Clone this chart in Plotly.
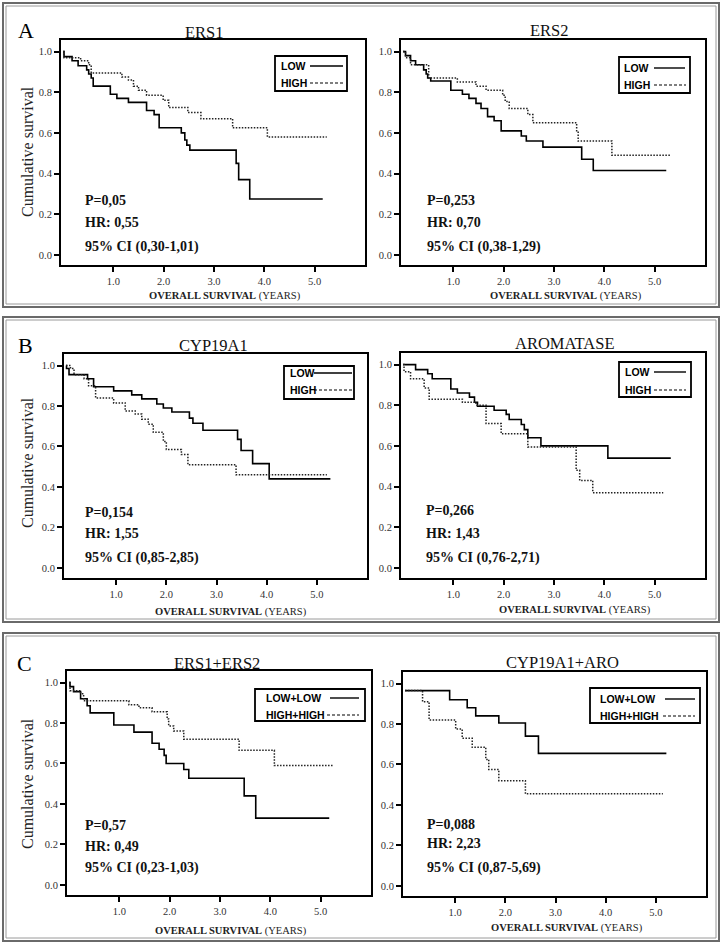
import plotly.graph_objects as go

W, H = 724, 944

# ---------------- data ----------------
X_TICKS = [1, 2, 3, 4, 5]
X_TICK_LABELS = ["1.0", "2.0", "3.0", "4.0", "5.0"]
Y_TICKS = [0.0, 0.2, 0.4, 0.6, 0.8, 1.0]
Y_TICK_LABELS = ["0.0", "0.2", "0.4", "0.6", "0.8", "1.0"]

TITLES = ["ERS1", "ERS2", "CYP19A1", "AROMATASE", "ERS1+ERS2", "CYP19A1+ARO"]
LEGEND_LABELS_SINGLE = ["LOW", "HIGH"]
LEGEND_LABELS_COMBO = ["LOW+LOW", "HIGH+HIGH"]
P_VALUES = ["P=0,05", "P=0,253", "P=0,154", "P=0,266", "P=0,57", "P=0,088"]
HR_VALUES = ["HR: 0,55", "HR: 0,70", "HR: 1,55", "HR: 1,43", "HR: 0,49", "HR: 2,23"]
CI_VALUES = ["95% CI (0,30-1,01)", "95% CI (0,38-1,29)", "95% CI (0,85-2,85)",
             "95% CI (0,76-2,71)", "95% CI (0,23-1,03)", "95% CI (0,87-5,69)"]

ERS1_LOW_T = [0, 0.02, 0.18, 0.30, 0.47, 0.51, 0.56, 0.60, 0.94, 1.07, 1.30, 1.66, 1.81, 1.91, 2.35, 2.42, 2.46, 2.52, 3.44, 3.49, 3.71, 5.16]
ERS1_LOW_S = [1.0, 0.975, 0.955, 0.93, 0.91, 0.89, 0.87, 0.83, 0.79, 0.77, 0.75, 0.71, 0.69, 0.625, 0.60, 0.565, 0.54, 0.515, 0.45, 0.37, 0.275, 0.275]
ERS1_HIGH_T = [0, 0.02, 0.35, 0.51, 0.56, 1.17, 1.30, 1.40, 1.50, 1.66, 1.99, 2.10, 2.48, 2.74, 3.37, 4.06, 5.24]
ERS1_HIGH_S = [1.0, 0.97, 0.955, 0.935, 0.895, 0.875, 0.86, 0.83, 0.81, 0.785, 0.76, 0.725, 0.70, 0.67, 0.625, 0.58, 0.58]

ERS2_LOW_T = [0, 0.05, 0.15, 0.25, 0.41, 0.46, 0.49, 0.55, 0.95, 1.18, 1.31, 1.45, 1.55, 1.68, 1.81, 1.95, 2.35, 2.45, 2.78, 3.55, 3.78, 5.23]
ERS2_LOW_S = [1.0, 0.98, 0.955, 0.935, 0.91, 0.89, 0.87, 0.855, 0.81, 0.79, 0.77, 0.745, 0.72, 0.68, 0.66, 0.61, 0.585, 0.56, 0.53, 0.47, 0.415, 0.415]
ERS2_HIGH_T = [0, 0.05, 0.15, 0.51, 1.08, 1.45, 1.65, 1.98, 2.03, 2.11, 2.48, 2.58, 3.45, 3.48, 4.15, 5.31]
ERS2_HIGH_S = [1.0, 0.97, 0.935, 0.87, 0.85, 0.83, 0.81, 0.785, 0.755, 0.72, 0.69, 0.65, 0.61, 0.56, 0.49, 0.49]

CYP_LOW_T = [0, 0.01, 0.06, 0.43, 0.55, 0.95, 1.31, 1.51, 1.81, 1.94, 2.11, 2.46, 2.53, 2.73, 3.42, 3.49, 3.72, 4.05, 5.27]
CYP_LOW_S = [1.0, 0.985, 0.955, 0.935, 0.895, 0.875, 0.855, 0.835, 0.81, 0.79, 0.77, 0.74, 0.715, 0.68, 0.635, 0.58, 0.515, 0.44, 0.44]
CYP_HIGH_T = [0, 0.09, 0.16, 0.36, 0.45, 0.59, 0.95, 1.18, 1.38, 1.51, 1.64, 1.74, 1.94, 2.00, 2.30, 2.43, 3.39, 5.20]
CYP_HIGH_S = [1.0, 0.985, 0.955, 0.935, 0.90, 0.84, 0.815, 0.775, 0.76, 0.735, 0.71, 0.67, 0.625, 0.585, 0.56, 0.51, 0.46, 0.46]

ARO_LOW_T = [0, 0.25, 0.49, 0.58, 0.95, 1.08, 1.32, 1.42, 1.48, 1.81, 2.05, 2.11, 2.35, 2.41, 2.48, 2.74, 4.07, 5.32]
ARO_LOW_S = [1.0, 0.975, 0.955, 0.93, 0.88, 0.86, 0.84, 0.815, 0.795, 0.775, 0.755, 0.73, 0.705, 0.68, 0.64, 0.60, 0.54, 0.54]
ARO_HIGH_T = [0, 0.02, 0.15, 0.42, 0.52, 1.18, 1.45, 1.65, 1.95, 2.48, 3.44, 3.51, 3.77, 5.17]
ARO_HIGH_S = [1.0, 0.965, 0.93, 0.885, 0.83, 0.815, 0.80, 0.71, 0.66, 0.595, 0.48, 0.43, 0.37, 0.37]

ERS12_LOW_T = [0, 0.02, 0.09, 0.23, 0.36, 0.42, 0.89, 1.29, 1.65, 1.79, 1.89, 1.93, 2.28, 2.38, 3.48, 3.71, 5.17]
ERS12_LOW_S = [1.0, 0.98, 0.955, 0.92, 0.885, 0.85, 0.79, 0.755, 0.70, 0.67, 0.64, 0.60, 0.57, 0.527, 0.44, 0.33, 0.33]
ERS12_HIGH_T = [0, 0.02, 0.23, 0.29, 1.19, 1.39, 1.65, 1.95, 1.98, 2.08, 2.28, 3.38, 4.08, 5.26]
ERS12_HIGH_S = [1.0, 0.96, 0.945, 0.91, 0.89, 0.875, 0.855, 0.82, 0.785, 0.76, 0.72, 0.665, 0.59, 0.59]

CA_LOW_T = [0, 0.89, 1.24, 1.41, 1.87, 2.40, 2.66, 5.21]
CA_LOW_S = [0.965, 0.92, 0.88, 0.84, 0.805, 0.74, 0.655, 0.655]
CA_HIGH_T = [0, 0.35, 0.48, 1.01, 1.14, 1.34, 1.61, 1.67, 1.87, 2.40, 5.14]
CA_HIGH_S = [0.965, 0.91, 0.82, 0.775, 0.73, 0.685, 0.625, 0.575, 0.52, 0.455, 0.455]

CURVES = [
    (ERS1_LOW_T, ERS1_LOW_S, ERS1_HIGH_T, ERS1_HIGH_S),
    (ERS2_LOW_T, ERS2_LOW_S, ERS2_HIGH_T, ERS2_HIGH_S),
    (CYP_LOW_T, CYP_LOW_S, CYP_HIGH_T, CYP_HIGH_S),
    (ARO_LOW_T, ARO_LOW_S, ARO_HIGH_T, ARO_HIGH_S),
    (ERS12_LOW_T, ERS12_LOW_S, ERS12_HIGH_T, ERS12_HIGH_S),
    (CA_LOW_T, CA_LOW_S, CA_HIGH_T, CA_HIGH_S),
]

# ---------------- layout geometry (pixels) ----------------
def px(x):
    return x / W

def py(y):
    return 1 - y / H

# plot areas: x0, x1, y0(top), y1(bottom)
PLOTS = [
    (61, 365, 40, 265),
    (401, 705, 40, 265),
    (64, 367, 354, 578),
    (401, 705, 353, 578),
    (67, 371, 671, 895),
    (403, 706, 672, 896),
]
TITLE_POS = [(204, 32), (549, 31), (213, 345), (565, 344), (217, 663), (562, 662)]
XTITLE_POS = [(225, 296), (566, 296), (231, 612), (575, 610), (231, 931), (567, 928)]
STATS_POS = [(83, (200, 222, 247)), (425, (200, 222, 247)), (83, (512, 533, 558)),
             (424, (511, 533, 558)), (83, (825, 846, 868)), (425, (824, 843, 868))]
# box x0,x1,y0,y1 ; text x ; line x0,x1 for rows ; row ys
LEGENDS = [
    ((275, 347, 56, 91), 279, ((310, 343), (310, 344)), (66, 83)),
    ((619, 690, 57, 93), 622, ((654, 685), (654, 686)), (68, 85)),
    ((284, 354, 366, 399), 288, ((314, 352), (314, 352)), (373, 390)),
    ((619, 691, 362, 397), 623, ((654, 686), (654, 686)), (372, 390)),
    ((255, 365, 689, 721), 264, ((330, 359), (327, 359)), (698, 715)),
    ((590, 700, 688, 723), 598, ((665, 695), (663, 695)), (699, 716)),
]
BOXES = [(3, 719, 3, 307), (3, 719, 317, 622), (3, 719, 633, 941)]
LETTERS = [("A", 26, 31), ("B", 25, 345), ("C", 24, 663)]
YTITLE_POS = [(27, 152), (27, 463), (27, 784)]

SERIF = "Liberation Serif"
SANS = "Liberation Sans"

fig = go.Figure()
layout = dict(
    width=W, height=H, margin=dict(l=0, r=0, t=0, b=0),
    paper_bgcolor="white", plot_bgcolor="white", showlegend=False,
)
annotations = []
shapes = []

for i, (x0, x1, y0, y1) in enumerate(PLOTS):
    k = "" if i == 0 else str(i + 1)
    layout["xaxis" + k] = dict(
        domain=[px(x0), px(x1)], range=[-0.04, 6.0], anchor="y" + k,
        tickvals=X_TICKS, ticktext=X_TICK_LABELS,
        showline=True, linewidth=2, linecolor="black", mirror=True,
        ticks="outside", ticklen=5, tickwidth=2, tickcolor="black",
        showgrid=False, zeroline=False,
        tickfont=dict(family=SERIF, size=10.5, color="#333"),
    )
    layout["yaxis" + k] = dict(
        domain=[py(y1), py(y0)], range=[-0.05, 1.057], anchor="x" + k,
        tickvals=Y_TICKS, ticktext=Y_TICK_LABELS,
        showline=True, linewidth=2, linecolor="black", mirror=True,
        ticks="outside", ticklen=5, tickwidth=2, tickcolor="black",
        showgrid=False, zeroline=False,
        tickfont=dict(family=SERIF, size=10.5, color="#333"),
    )
    lt, ls, ht, hs = CURVES[i]
    fig.add_trace(go.Scatter(x=lt, y=ls, mode="lines", line_shape="hv",
                             line=dict(color="black", width=1.6),
                             xaxis="x" + k, yaxis="y" + k, hoverinfo="skip"))
    fig.add_trace(go.Scatter(x=ht, y=hs, mode="lines", line_shape="hv",
                             line=dict(color="#222", width=1.5, dash="1.5px,1.5px"),
                             xaxis="x" + k, yaxis="y" + k, hoverinfo="skip"))

    # title
    tx, ty = TITLE_POS[i]
    annotations.append(dict(text=TITLES[i], x=px(tx), y=py(ty), xref="paper", yref="paper",
                            xanchor="center", yanchor="middle", showarrow=False,
                            font=dict(family=SERIF, size=16.5, color="#111")))
    # x title
    xx, xy = XTITLE_POS[i]
    annotations.append(dict(text="<b>OVERALL SURVIVAL</b> (YEARS)", x=px(xx), y=py(xy),
                            xref="paper", yref="paper", xanchor="center", yanchor="middle",
                            showarrow=False, font=dict(family=SERIF, size=10.5, color="#222")))
    # stats
    sx, sys_ = STATS_POS[i]
    for txt, yy in zip((P_VALUES[i], HR_VALUES[i], CI_VALUES[i]), sys_):
        annotations.append(dict(text="<b>" + txt + "</b>", x=px(sx), y=py(yy),
                                xref="paper", yref="paper", xanchor="left", yanchor="middle",
                                showarrow=False, font=dict(family=SERIF, size=14, color="#111")))
    # legend
    (bx0, bx1, by0, by1), ltx, lines, rows = LEGENDS[i]
    labels = LEGEND_LABELS_SINGLE if i < 4 else LEGEND_LABELS_COMBO
    shapes.append(dict(type="rect", xref="paper", yref="paper",
                       x0=px(bx0), x1=px(bx1), y0=py(by0), y1=py(by1),
                       line=dict(color="black", width=1.8), fillcolor="white", layer="above"))
    for j, (lab, ry) in enumerate(zip(labels, rows)):
        annotations.append(dict(text="<b>" + lab + "</b>", x=px(ltx), y=py(ry),
                                xref="paper", yref="paper", xanchor="left", yanchor="middle",
                                showarrow=False, font=dict(family=SANS, size=10.5, color="black")))
        lx0, lx1 = lines[j]
        shapes.append(dict(type="line", xref="paper", yref="paper",
                           x0=px(lx0), x1=px(lx1), y0=py(ry), y1=py(ry), layer="above",
                           line=dict(color="black", width=1.4 if j == 0 else 1.1,
                                     dash="solid" if j == 0 else "3px,2px")))

# panel boxes (double border)
for (bx0, bx1, by0, by1) in BOXES:
    shapes.append(dict(type="rect", xref="paper", yref="paper",
                       x0=px(bx0), x1=px(bx1), y0=py(by0), y1=py(by1),
                       line=dict(color="#6a6a6a", width=2), layer="below"))
    shapes.append(dict(type="rect", xref="paper", yref="paper",
                       x0=px(bx0 + 3), x1=px(bx1 - 3), y0=py(by0 + 3), y1=py(by1 - 3),
                       line=dict(color="#9a9a9a", width=1), layer="below"))

for (lt, lx, ly) in LETTERS:
    annotations.append(dict(text=lt, x=px(lx), y=py(ly), xref="paper", yref="paper",
                            xanchor="center", yanchor="middle", showarrow=False,
                            font=dict(family=SERIF, size=22, color="black")))
for (yx, yy) in YTITLE_POS:
    annotations.append(dict(text="Cumulative survival", x=px(yx), y=py(yy), xref="paper",
                            yref="paper", xanchor="center", yanchor="middle", textangle=-90,
                            showarrow=False, font=dict(family=SERIF, size=16, color="#222")))

layout["annotations"] = annotations
layout["shapes"] = shapes
fig.update_layout(**layout)
fig.write_html("out.html", config={"displayModeBar": False},
               post_script="document.body.style.margin='0';document.body.style.overflow='hidden';")
